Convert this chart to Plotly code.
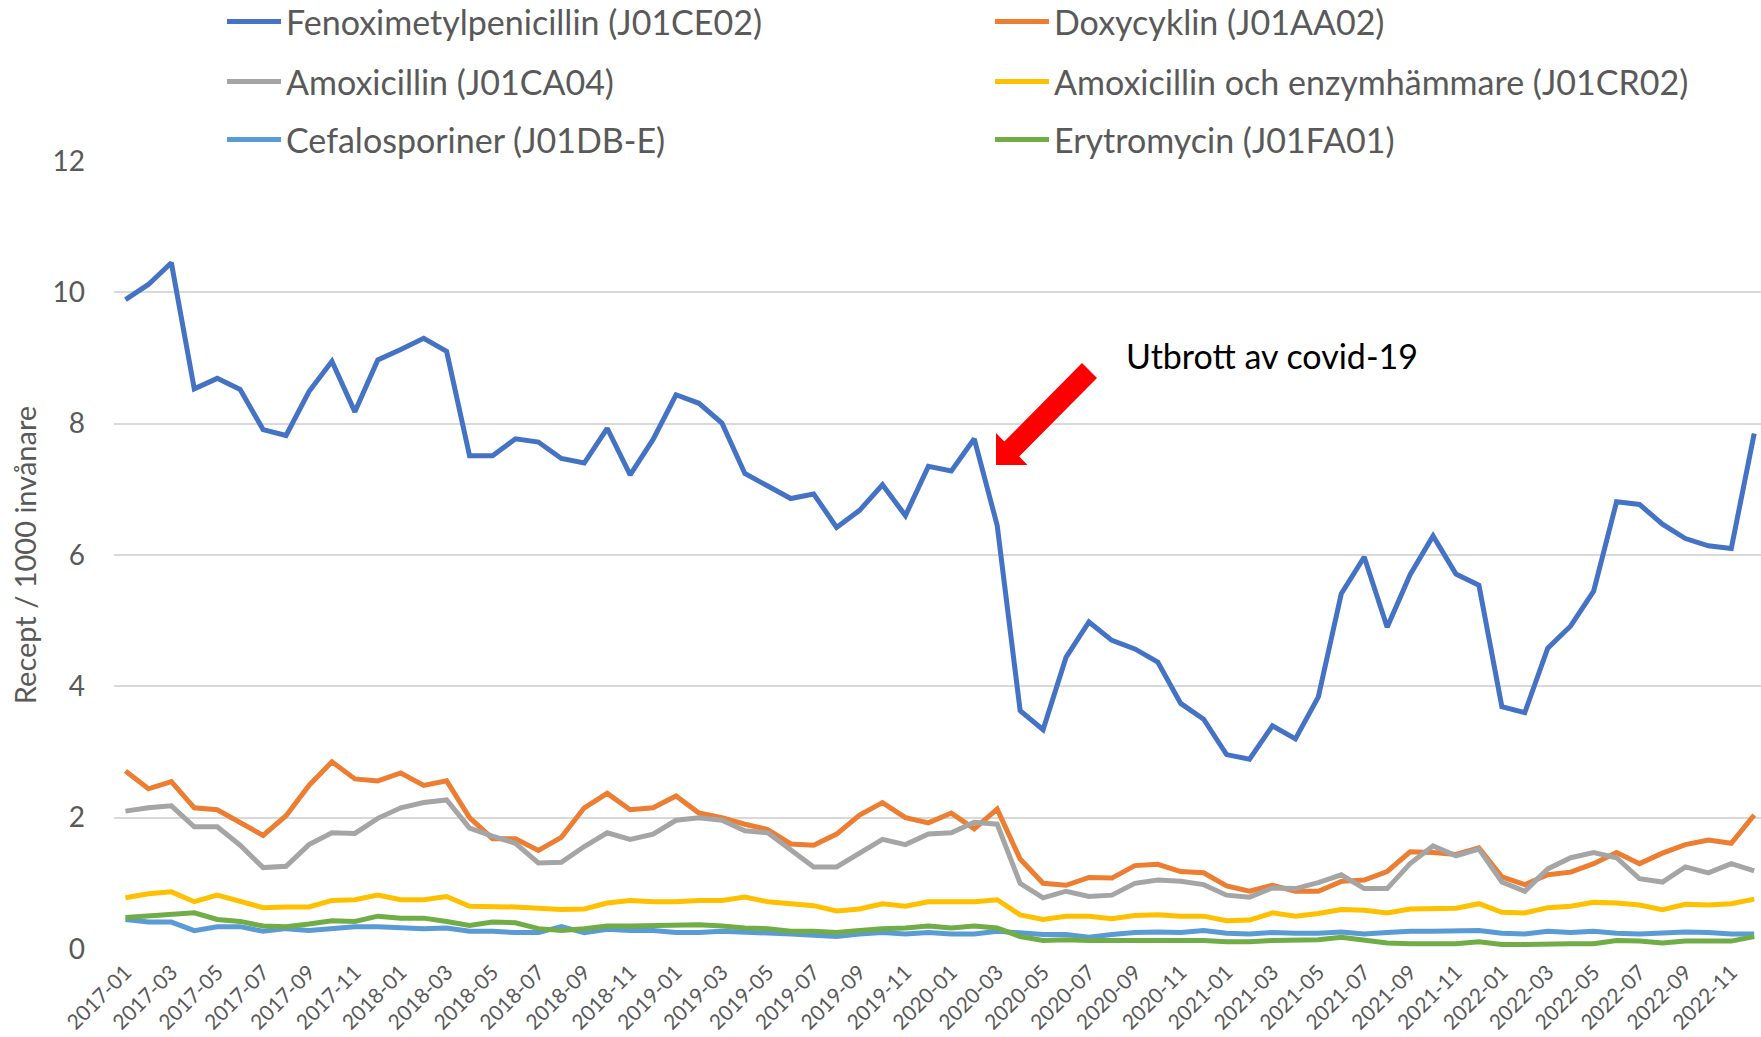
import plotly.graph_objects as go

months = [f"{y}-{m:02d}" for y in range(2017, 2023) for m in range(1, 13)]
tick_labels = months[::2]

fenoxi = [9.89, 10.12, 10.45, 8.53, 8.69, 8.52, 7.91, 7.82, 8.49, 8.95, 8.18, 8.97,
          9.13, 9.30, 9.10, 7.51, 7.51, 7.77, 7.72, 7.47, 7.40, 7.93, 7.22, 7.76,
          8.44, 8.31, 8.01, 7.24, 7.05, 6.86, 6.93, 6.42, 6.68, 7.07, 6.60, 7.35,
          7.28, 7.77, 6.45, 3.63, 3.34, 4.44, 4.98, 4.70, 4.57, 4.37, 3.74, 3.50,
          2.96, 2.89, 3.40, 3.20, 3.84, 5.41, 5.97, 4.90, 5.70, 6.29, 5.71, 5.54,
          3.69, 3.60, 4.58, 4.92, 5.45, 6.81, 6.77, 6.47, 6.25, 6.14, 6.10, 7.85]

doxy = [2.71, 2.44, 2.55, 2.15, 2.12, 1.92, 1.73, 2.03, 2.49, 2.85, 2.59, 2.56,
        2.68, 2.49, 2.56, 2.00, 1.68, 1.68, 1.50, 1.70, 2.15, 2.37, 2.12, 2.15,
        2.33, 2.07, 2.00, 1.90, 1.82, 1.60, 1.58, 1.75, 2.04, 2.23, 2.00, 1.92,
        2.07, 1.83, 2.13, 1.37, 1.00, 0.97, 1.09, 1.08, 1.27, 1.29, 1.18, 1.16,
        0.96, 0.88, 0.97, 0.88, 0.88, 1.03, 1.05, 1.18, 1.48, 1.47, 1.44, 1.54,
        1.10, 0.98, 1.13, 1.17, 1.30, 1.47, 1.30, 1.46, 1.59, 1.66, 1.61, 2.04]

amox = [2.10, 2.15, 2.18, 1.86, 1.86, 1.58, 1.24, 1.26, 1.59, 1.77, 1.76, 1.99,
        2.15, 2.23, 2.27, 1.84, 1.72, 1.61, 1.31, 1.32, 1.56, 1.77, 1.67, 1.75,
        1.96, 2.00, 1.96, 1.80, 1.77, 1.52, 1.25, 1.25, 1.47, 1.67, 1.59, 1.75,
        1.77, 1.93, 1.90, 1.00, 0.78, 0.88, 0.80, 0.82, 1.00, 1.05, 1.03, 0.98,
        0.82, 0.79, 0.93, 0.92, 1.01, 1.13, 0.92, 0.92, 1.30, 1.57, 1.42, 1.52,
        1.02, 0.88, 1.22, 1.39, 1.47, 1.39, 1.07, 1.02, 1.25, 1.16, 1.30, 1.19]

amox_enz = [0.78, 0.84, 0.87, 0.72, 0.82, 0.73, 0.63, 0.64, 0.64, 0.74, 0.75, 0.82,
            0.75, 0.75, 0.80, 0.65, 0.65, 0.64, 0.62, 0.60, 0.61, 0.70, 0.74, 0.72,
            0.72, 0.74, 0.74, 0.79, 0.72, 0.69, 0.66, 0.58, 0.61, 0.69, 0.65, 0.72,
            0.72, 0.72, 0.75, 0.52, 0.45, 0.50, 0.50, 0.46, 0.51, 0.52, 0.50, 0.50,
            0.43, 0.44, 0.55, 0.50, 0.54, 0.60, 0.59, 0.55, 0.61, 0.61, 0.62, 0.69,
            0.56, 0.55, 0.63, 0.65, 0.71, 0.70, 0.67, 0.60, 0.68, 0.67, 0.69, 0.76]

cefalo = [0.45, 0.41, 0.41, 0.28, 0.34, 0.34, 0.27, 0.31, 0.28, 0.31, 0.34, 0.34,
          0.32, 0.31, 0.32, 0.27, 0.27, 0.25, 0.25, 0.34, 0.25, 0.30, 0.28, 0.28,
          0.25, 0.25, 0.27, 0.26, 0.25, 0.23, 0.21, 0.19, 0.23, 0.25, 0.23, 0.25,
          0.23, 0.23, 0.27, 0.24, 0.22, 0.22, 0.18, 0.22, 0.25, 0.26, 0.25, 0.28,
          0.24, 0.23, 0.25, 0.24, 0.24, 0.26, 0.23, 0.25, 0.27, 0.27, 0.27, 0.28,
          0.24, 0.23, 0.27, 0.25, 0.27, 0.24, 0.23, 0.24, 0.26, 0.25, 0.23, 0.23]

erytro = [0.48, 0.50, 0.52, 0.55, 0.45, 0.42, 0.35, 0.34, 0.38, 0.43, 0.42, 0.50,
          0.47, 0.47, 0.42, 0.36, 0.41, 0.40, 0.31, 0.28, 0.31, 0.35, 0.35, 0.36,
          0.37, 0.37, 0.35, 0.32, 0.31, 0.27, 0.27, 0.25, 0.28, 0.31, 0.32, 0.35,
          0.32, 0.35, 0.32, 0.19, 0.13, 0.14, 0.13, 0.13, 0.13, 0.14, 0.13, 0.13,
          0.11, 0.11, 0.13, 0.13, 0.14, 0.18, 0.14, 0.09, 0.08, 0.08, 0.08, 0.11,
          0.07, 0.07, 0.08, 0.08, 0.08, 0.13, 0.12, 0.09, 0.12, 0.12, 0.12, 0.19]

series_names = ["Fenoximetylpenicillin (J01CE02)", "Doxycyklin (J01AA02)",
                "Amoxicillin (J01CA04)", "Amoxicillin och enzymhämmare (J01CR02)",
                "Cefalosporiner (J01DB-E)", "Erytromycin (J01FA01)"]
series_values = [fenoxi, doxy, amox, amox_enz, cefalo, erytro]
series_colors = ["#4472C4", "#ED7D31", "#A5A5A5", "#FFC000", "#5B9BD5", "#70AD47"]
legend_ids = ["legend", "legend", "legend2", "legend2", "legend3", "legend3"]

FONT = "Lato"
TXT = "#595959"

W, H = 1761, 1037
ML, MR, MT, MB = 114, 0, 161, 88
PW, PH = W - ML - MR, H - MT - MB
STEP = 22.94

fig = go.Figure()
for name, vals, col, lg in zip(series_names, series_values, series_colors, legend_ids):
    fig.add_trace(go.Scatter(x=months, y=vals, name=name, mode="lines",
                             line=dict(color=col, width=5), legend=lg))

def px2paper(px, py):
    return (px - ML) / PW, (H - MB - py) / PH

# block arrow (pixel outline converted to paper coords)
arrow_px = [(996, 465), (996, 433), (1004.3, 441.6), (1082, 363), (1097, 378),
            (1019.2, 456.4), (1027.5, 465)]
pts = [px2paper(*p) for p in arrow_px]
path = "M " + " L ".join(f"{x:.5f},{y:.5f}" for x, y in pts) + " Z"
fig.add_shape(type="path", path=path, xref="paper", yref="paper",
              fillcolor="#FF0000", line=dict(width=0))

ax_, ay_ = px2paper(1124, 355)
fig.add_annotation(x=ax_, y=ay_, xref="paper", yref="paper", text="Utbrott av covid-19",
                   showarrow=False, xanchor="left", yanchor="middle",
                   font=dict(family=FONT, size=34, color="#000000"))

def legend_cfg(py):
    lx, ly = px2paper(222, py)
    return dict(orientation="h", x=lx, y=ly, xanchor="left", yanchor="middle",
                entrywidth=699, entrywidthmode="pixels", itemwidth=54,
                bgcolor="rgba(255,255,255,1)", font=dict(family=FONT, size=34, color=TXT),
                itemclick=False, itemdoubleclick=False)

fig.update_layout(
    width=W, height=H,
    margin=dict(l=ML, r=MR, t=MT, b=MB, autoexpand=False),
    paper_bgcolor="white", plot_bgcolor="white",
    font=dict(family=FONT, color=TXT),
    showlegend=True,
    legend=legend_cfg(22),
    legend2=legend_cfg(82),
    legend3=legend_cfg(140),
    xaxis=dict(type="category", range=[-0.5, -0.5 + PW / STEP],
               tickmode="array", tickvals=tick_labels, ticktext=tick_labels,
               tickangle=-45, tickfont=dict(family=FONT, size=21, color=TXT),
               showgrid=False, showline=False, zeroline=False, ticks="",
               ticklabelstandoff=6),
    yaxis=dict(range=[0, 12], tickvals=[0, 2, 4, 6, 8, 10, 12],
               showgrid=True, gridcolor="#D9D9D9", gridwidth=2,
               zeroline=False, showline=False, ticks="",
               tickfont=dict(family=FONT, size=28, color=TXT),
               ticklabelstandoff=28,
               title=dict(text="Recept / 1000 invånare", standoff=7,
                          font=dict(family=FONT, size=29, color=TXT))),
)

fig.write_html("out.html", config={"displayModeBar": False},
               post_script="document.body.style.margin='0';")
